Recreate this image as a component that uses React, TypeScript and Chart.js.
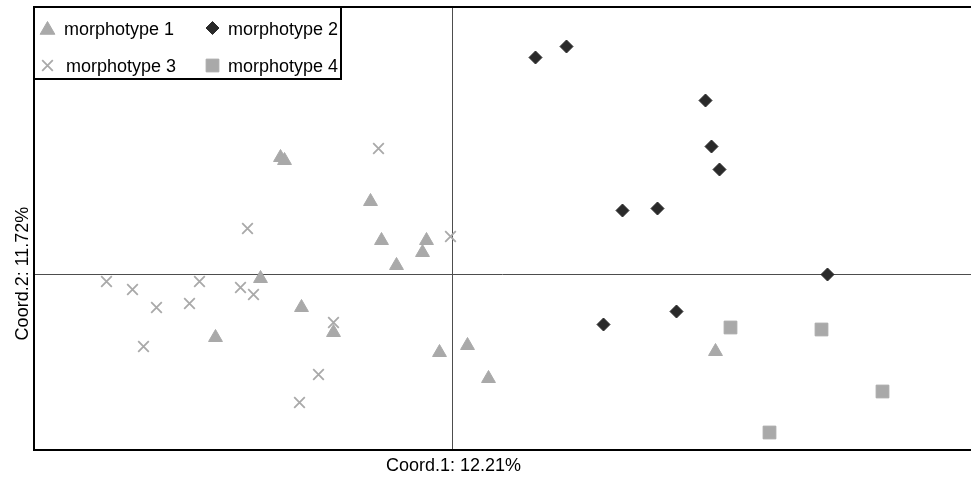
import React, { useEffect, useRef } from 'react';
import { Chart, registerables } from 'chart.js';
import { drawPoint } from 'chart.js/helpers';

Chart.register(...registerables);

// ---- data (PCoA coordinates) ----
const seriesNames = ['morphotype 1', 'morphotype 2', 'morphotype 3', 'morphotype 4'];

const morphotype1X = [-0.171, -0.167, -0.191, -0.236, -0.081, -0.070, -0.025, -0.029, -0.055, -0.150, -0.118, -0.012, 0.016, 0.037, 0.264];
const morphotype1Y = [0.116, 0.113, -0.005, -0.064, 0.072, 0.033, 0.033, 0.021, 0.008, -0.034, -0.059, -0.079, -0.072, -0.105, -0.078];

const morphotype2X = [0.084, 0.115, 0.254, 0.260, 0.268, 0.171, 0.206, 0.152, 0.225, 0.376];
const morphotype2Y = [0.216, 0.227, 0.173, 0.127, 0.104, 0.063, 0.065, -0.051, -0.038, -0.001];

const morphotype3X = [-0.345, -0.319, -0.295, -0.308, -0.262, -0.252, -0.211, -0.198, -0.204, -0.073, -0.001, -0.118, -0.133, -0.152];
const morphotype3Y = [-0.008, -0.016, -0.034, -0.073, -0.030, -0.008, -0.014, -0.021, 0.045, 0.125, 0.037, -0.049, -0.101, -0.129];

const morphotype4X = [0.279, 0.370, 0.431, 0.318];
const morphotype4Y = [-0.054, -0.056, -0.118, -0.159];

const xAxisTitle = 'Coord.1: 12.21%';
const yAxisTitle = 'Coord.2: 11.72%';

const xMin = -0.4175;
const xMax = 0.5195;
const yMin = -0.1765;
const yMax = 0.2665;

const toPoints = (xs: number[], ys: number[]) => xs.map((x, i) => ({ x, y: ys[i] }));

const LIGHT = '#a9a9a9';
const DARK = '#2a2a2a';

const FONT = "'Liberation Sans', Arial, sans-serif";

const guidePlugin = {
  id: 'guides',
  beforeDatasetsDraw(chart: any) {
    const { ctx, chartArea: a, scales } = chart;
    const x0 = Math.round(scales.x.getPixelForValue(0)) + 0.5;
    const y0 = Math.round(scales.y.getPixelForValue(0)) + 0.5;
    ctx.save();
    ctx.strokeStyle = '#4d4d4d';
    ctx.lineWidth = 1;
    ctx.beginPath();
    ctx.moveTo(x0, a.top);
    ctx.lineTo(x0, a.bottom);
    ctx.moveTo(a.left, y0);
    ctx.lineTo(a.right, y0);
    ctx.stroke();
    ctx.restore();
  },
  afterDraw(chart: any) {
    const { ctx, chartArea: a, scales } = chart;
    ctx.save();
    // frame (left, top, bottom)
    ctx.strokeStyle = '#000';
    ctx.lineWidth = 2;
    ctx.beginPath();
    ctx.moveTo(a.right + 2, a.top);
    ctx.lineTo(a.left, a.top);
    ctx.lineTo(a.left, a.bottom);
    ctx.lineTo(a.right + 2, a.bottom);
    ctx.stroke();

    // axis titles, centred on the origin lines
    const x0 = scales.x.getPixelForValue(0);
    const y0 = scales.y.getPixelForValue(0);
    ctx.fillStyle = '#000';
    ctx.font = `18px ${FONT}`;
    ctx.textAlign = 'center';
    ctx.textBaseline = 'middle';
    ctx.fillText(xAxisTitle, x0 + 2, a.bottom + 16.5);
    ctx.save();
    ctx.translate(a.left - 11, y0);
    ctx.rotate(-Math.PI / 2);
    ctx.fillText(yAxisTitle, 0, 0);
    ctx.restore();

    // legend box
    const lw = 307;
    const lh = 72;
    ctx.fillStyle = '#fff';
    ctx.fillRect(a.left, a.top, lw, lh);
    ctx.strokeRect(a.left, a.top, lw, lh);

    ctx.font = `18px ${FONT}`;
    ctx.textBaseline = 'alphabetic';
    ctx.textAlign = 'left';
    chart.data.datasets.forEach((ds: any, i: number) => {
      const col = i % 2;
      const row = Math.floor(i / 2);
      const sx = a.left + 13.5 + col * 165;
      const sy = a.top + 21 + row * 37.5;
      ctx.fillStyle = ds.backgroundColor;
      ctx.strokeStyle = ds.borderColor;
      ctx.lineWidth = ds.borderWidth;
      const r = ds.pointStyle === 'triangle' ? ds.pointRadius + 0.5 : ds.pointRadius;
      drawPoint(ctx, { pointStyle: ds.pointStyle, radius: r, rotation: 0, borderWidth: ds.borderWidth }, sx, ds.pointStyle === 'triangle' ? sy + 2 : sy);
      ctx.fillStyle = '#000';
      const tx = a.left + (col === 0 ? (row === 0 ? 30 : 32) : 194);
      ctx.fillText(ds.label, tx, sy + 6.5);
    });
    ctx.restore();
  },
};

export default function App() {
  const ref = useRef<HTMLCanvasElement>(null);

  useEffect(() => {
    if (!ref.current) return;
    Chart.defaults.font.family = FONT;
    const chart = new Chart(ref.current, {
      type: 'scatter',
      data: {
        datasets: [
          {
            label: seriesNames[0],
            data: toPoints(morphotype1X, morphotype1Y),
            pointStyle: 'triangle',
            pointRadius: 8,
            backgroundColor: LIGHT,
            borderColor: LIGHT,
            borderWidth: 1,
          },
          {
            label: seriesNames[1],
            data: toPoints(morphotype2X, morphotype2Y),
            pointStyle: 'rectRot',
            pointRadius: 6.5,
            backgroundColor: DARK,
            borderColor: DARK,
            borderWidth: 1,
          },
          {
            label: seriesNames[2],
            data: toPoints(morphotype3X, morphotype3Y),
            pointStyle: 'crossRot',
            pointRadius: 7.5,
            backgroundColor: LIGHT,
            borderColor: LIGHT,
            borderWidth: 1.8,
          },
          {
            label: seriesNames[3],
            data: toPoints(morphotype4X, morphotype4Y),
            pointStyle: 'rect',
            pointRadius: 9,
            backgroundColor: LIGHT,
            borderColor: LIGHT,
            borderWidth: 1,
          },
        ] as any,
      },
      options: {
        animation: false,
        responsive: false,
        events: [],
        layout: { autoPadding: false, padding: { left: 34, top: 7, right: 0, bottom: 27 } },
        plugins: {
          legend: { display: false },
          tooltip: { enabled: false },
        },
        scales: {
          x: {
            type: 'linear',
            display: false,
            min: xMin,
            max: xMax,
          },
          y: {
            type: 'linear',
            display: false,
            min: yMin,
            max: yMax,
          },
        },
      },
      plugins: [guidePlugin],
    });
    return () => chart.destroy();
  }, []);

  return (
    <div style={{ position: 'fixed', left: 0, top: 0, width: 971, height: 477, background: '#fff' }}>
      <canvas ref={ref} width={971} height={477} style={{ display: 'block' }} />
    </div>
  );
}
